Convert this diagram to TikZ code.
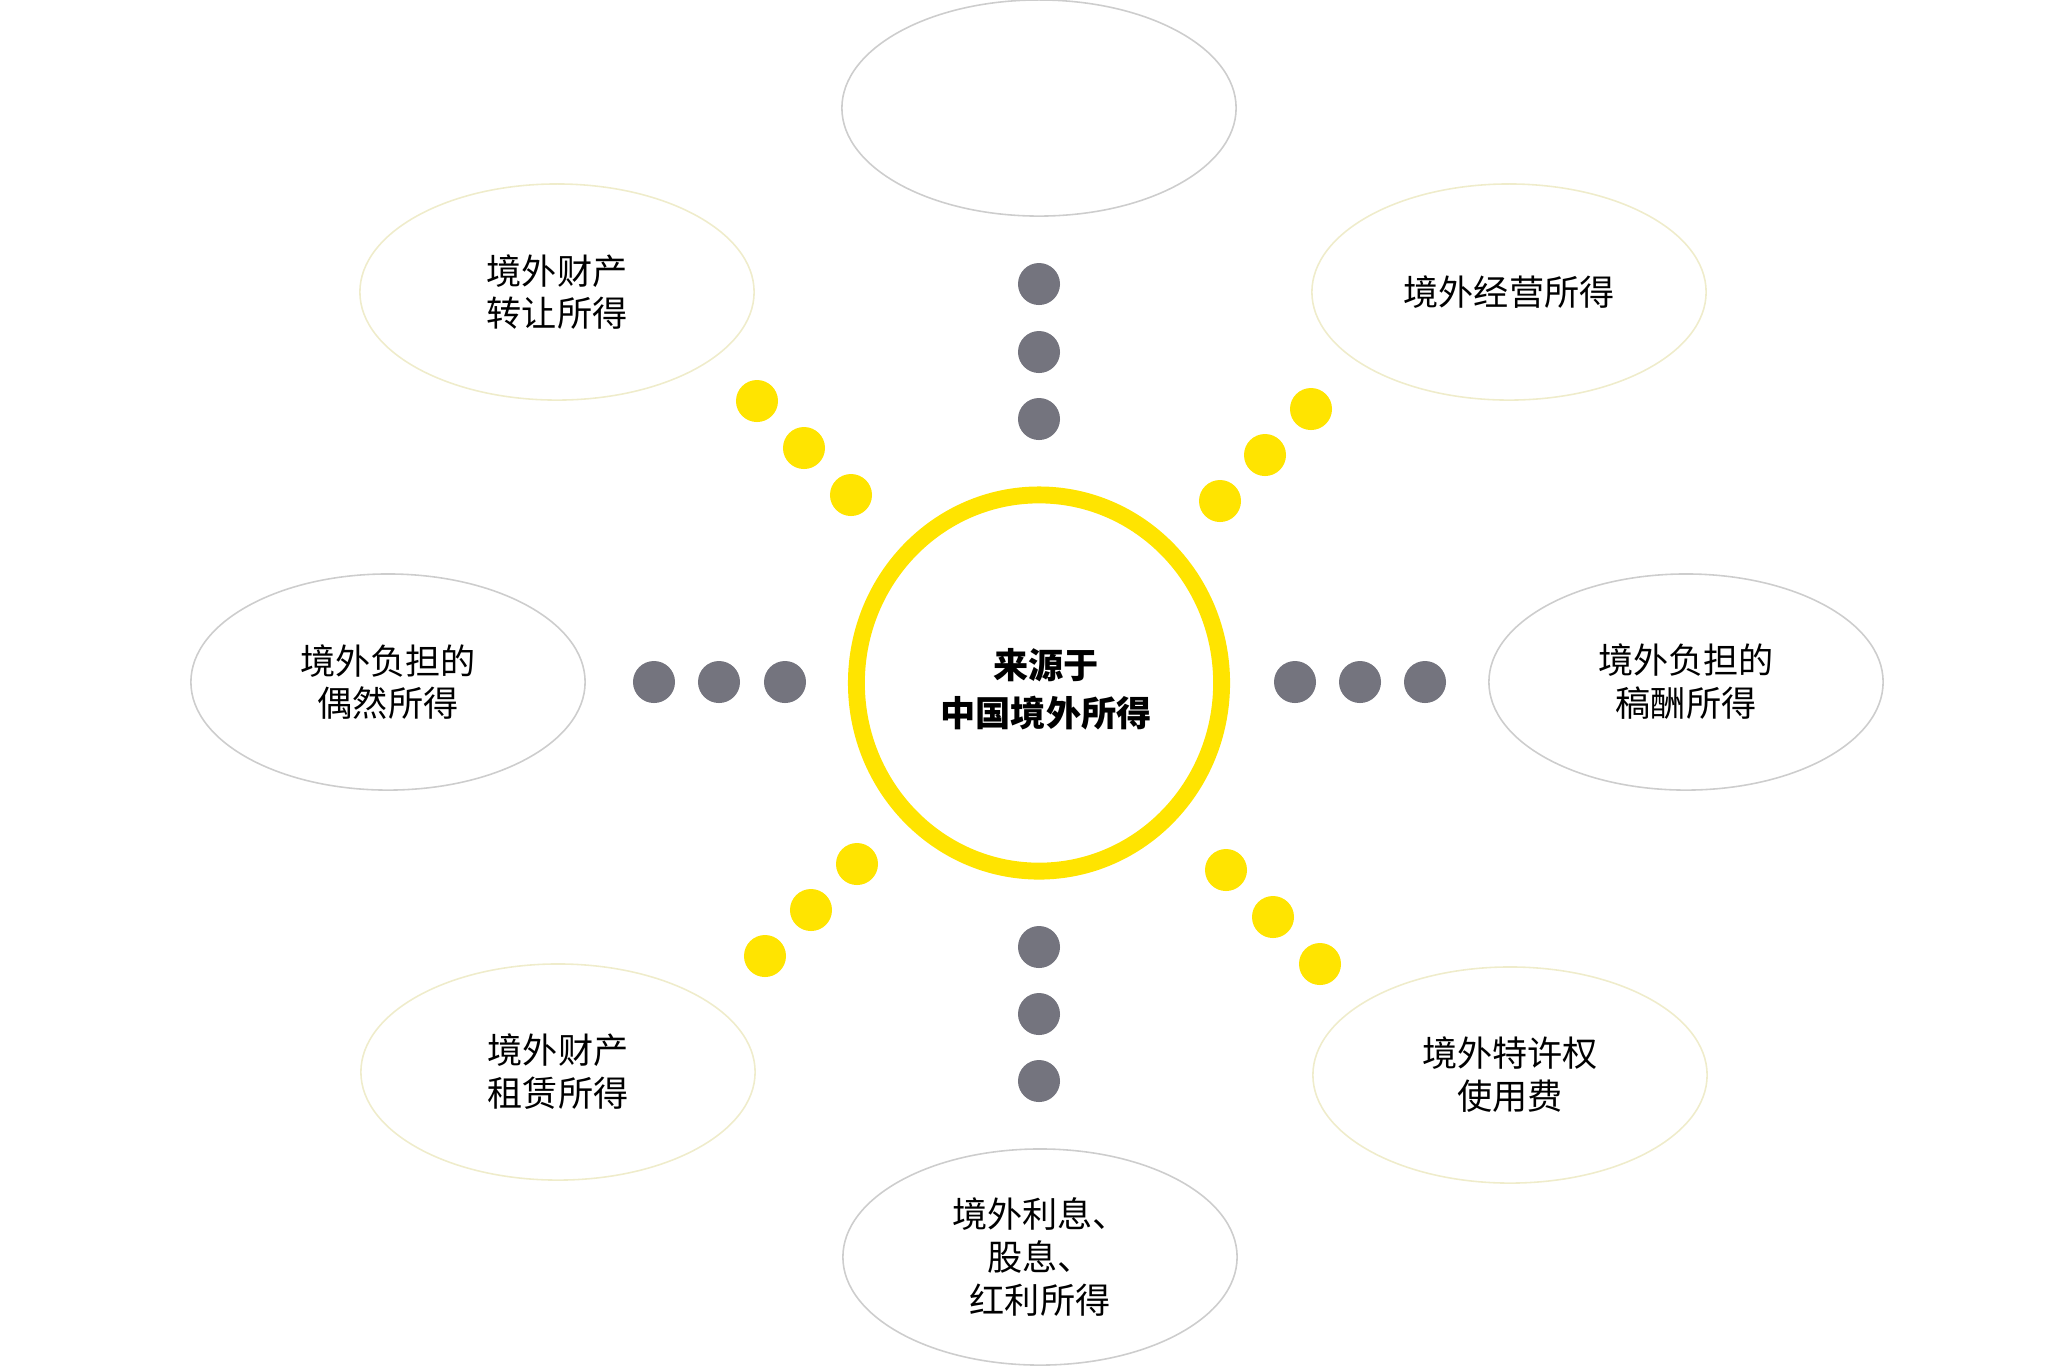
\documentclass[tikz,border=0pt]{standalone}
\usepackage{fontspec}
\setmainfont{Noto Sans CJK SC}
\usepackage{tikz}
\usepackage{xcolor}
\usetikzlibrary{shapes.geometric}
\definecolor{sunyellow}{HTML}{FFE400}
\definecolor{dotgray}{HTML}{74747E}
\definecolor{rimgray}{HTML}{CDCDCD}
\definecolor{rimyellow}{HTML}{EFECCB}
\tikzset{
	income/.style={ellipse, minimum width=3.94cm, minimum height=2.16cm,
		inner sep=0pt, line width=0.45pt, align=center,
		font=\fontsize{10}{12.2}\selectfont},
	gdot/.style={circle, fill=dotgray, minimum size=0.42cm, inner sep=0pt},
	ydot/.style={circle, fill=sunyellow, minimum size=0.42cm, inner sep=0pt}
}

\begin{document}
\begin{tikzpicture}[x=0.01cm,y=-0.01cm]
            \useasboundingbox (0,0) rectangle (2048,1365);
            % centre ring
            \node[ellipse, draw=sunyellow, line width=4.8pt, minimum width=3.65cm,
                minimum height=3.76cm] (src) at (1039,683) {};
            \node[align=center, font=\fontsize{10}{13.7}\selectfont\bfseries] (srctxt) at (1046,689) {来源于\\中国境外所得};
            % the eight kinds of income
            \node[income, draw=rimgray] (top) at (1039,108) {};
            \node[income, draw=rimyellow] (tl) at (557,292) {境外财产\\转让所得};
            \node[income, draw=rimyellow] (tr) at (1509,292) {境外经营所得};
            \node[income, draw=rimgray] (lf) at (388,682) {境外负担的\\偶然所得};
            \node[income, draw=rimgray] (rt) at (1686,682) {境外负担的\\稿酬所得};
            \node[income, draw=rimyellow] (bl) at (558,1072) {境外财产\\租赁所得};
            \node[income, draw=rimyellow] (br) at (1510,1075) {境外特许权\\使用费};
            \node[income, draw=rimgray] (bt) at (1040,1257) {境外利息、\\股息、\\红利所得};
            % gray dots
            \foreach \x/\y [count=\i] in {1039/284,1039/352,1039/419,
                1039/947,1039/1014,1039/1081,
                654/682,719/682,785/682,
                1295/682,1360/682,1425/682}
                \node[gdot] (g\i) at (\x,\y) {};
            % yellow dots
            \foreach \x/\y [count=\i] in {757/401,804/448,851/495,
                1311/409,1265/455,1220/501,
                857/864,811/910,765/956,
                1226/870,1273/917,1320/964}
                \node[ydot] (y\i) at (\x,\y) {};
        \end{tikzpicture}
\end{document}
